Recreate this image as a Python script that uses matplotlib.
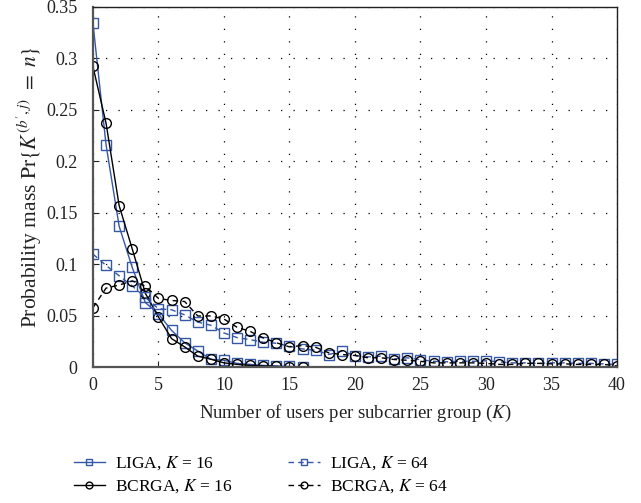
import matplotlib
matplotlib.use("Agg")
import matplotlib.pyplot as plt
import numpy as np

plt.rcParams['font.family'] = ['Liberation Serif', 'DejaVu Serif']
plt.rcParams['mathtext.fontset'] = 'stix'

# number of users n
n16 = list(range(0, 17))
n64 = list(range(0, 41))

liga16 = [0.334, 0.216, 0.137, 0.097, 0.063, 0.052, 0.036, 0.024, 0.016, 0.008,
          0.007, 0.004, 0.003, 0.002, 0.0015, 0.001, 0.0005]
bcrga16 = [0.292, 0.237, 0.157, 0.115, 0.072, 0.049, 0.028, 0.020, 0.011, 0.008,
           0.0045, 0.003, 0.002, 0.0015, 0.001, 0.0005, 0.0003]
liga64 = [0.110, 0.099, 0.089, 0.079, 0.068, 0.057, 0.056, 0.051, 0.044, 0.041,
          0.0335, 0.029, 0.027, 0.0245, 0.0235, 0.0206, 0.018, 0.0167, 0.0126, 0.0158,
          0.0116, 0.0103, 0.011, 0.0084, 0.0094, 0.0075, 0.006, 0.0055, 0.006, 0.006,
          0.0065, 0.0055, 0.0045, 0.0045, 0.004, 0.0045, 0.0045, 0.004, 0.004, 0.0035,
          0.003]
bcrga64 = [0.058, 0.077, 0.080, 0.084, 0.079, 0.067, 0.065, 0.064, 0.050, 0.050,
           0.047, 0.039, 0.035, 0.0287, 0.024, 0.020, 0.0213, 0.0196, 0.0142, 0.0126,
           0.0116, 0.0094, 0.0094, 0.0077, 0.007, 0.006, 0.0045, 0.0045, 0.0045, 0.0045,
           0.004, 0.003, 0.003, 0.004, 0.004, 0.0035, 0.0035, 0.003, 0.003, 0.003,
           0.0015]

blue = '#3557a8'

fig = plt.figure(figsize=(6.41, 5.03), dpi=100)
ax = fig.add_axes([0.145, 0.2694, 0.8176, 0.7173])

mk = dict(markersize=7, markerfacecolor='none', markeredgewidth=1.0)
h1, = ax.plot(n16, liga16, '-', color=blue, marker='s', markeredgecolor=blue, lw=1.0, **mk)
h2, = ax.plot(n16, bcrga16, '-', color='black', marker='o', markeredgecolor='black', lw=1.0, **mk)
h3, = ax.plot(n64, liga64, '--', color=blue, marker='s', markeredgecolor=blue, lw=1.0,
              dashes=(4, 3), **mk)
h4, = ax.plot(n64, bcrga64, '--', color='black', marker='o', markeredgecolor='black', lw=1.0,
              dashes=(4, 3), **mk)

ax.set_xlim(0, 40)
ax.set_ylim(0, 0.35)
ax.set_xticks(np.arange(0, 41, 5))
ax.set_yticks(np.arange(0, 0.351, 0.05))
ax.set_yticklabels(['0', '0.05', '0.1', '0.15', '0.2', '0.25', '0.3', '0.35'])
ax.tick_params(direction='in', length=4, labelsize=13, colors='#222222')
ax.tick_params(axis='y', pad=11)
ax.tick_params(axis='x', pad=7)
ax.grid(True, color='black', linestyle=(0, (1, 9)), linewidth=0.9)

for s in ['left', 'bottom']:
    ax.spines[s].set_color('#555555')
    ax.spines[s].set_linewidth(1.6)
for s in ['top', 'right']:
    ax.spines[s].set_color('#222222')
    ax.spines[s].set_linewidth(1.0)

ax.set_xlabel(r'Number of users per subcarrier group ($K$)', fontsize=13.5, color='#222222', labelpad=6)
ax.set_ylabel(r'Probability mass $\mathrm{Pr}\{K^{(b^{\prime},j)}\ =\ n\}$', fontsize=15.5,
              color='#222222', labelpad=2)

fig.legend([h1, h2, h3, h4],
           [r'LIGA, $K$ = 16', r'BCRGA, $K$ = 16', r'LIGA, $K$ = 64', r'BCRGA, $K$ = 64'],
           ncol=2, loc='center left', bbox_to_anchor=(0.115, 1 - 475 / 503), frameon=False,
           fontsize=12.5, handlelength=1.8, handletextpad=0.6, columnspacing=3.2,
           labelspacing=0.3, borderaxespad=0, borderpad=0, markerscale=0.7)

fig.savefig('out.png', dpi=100)
